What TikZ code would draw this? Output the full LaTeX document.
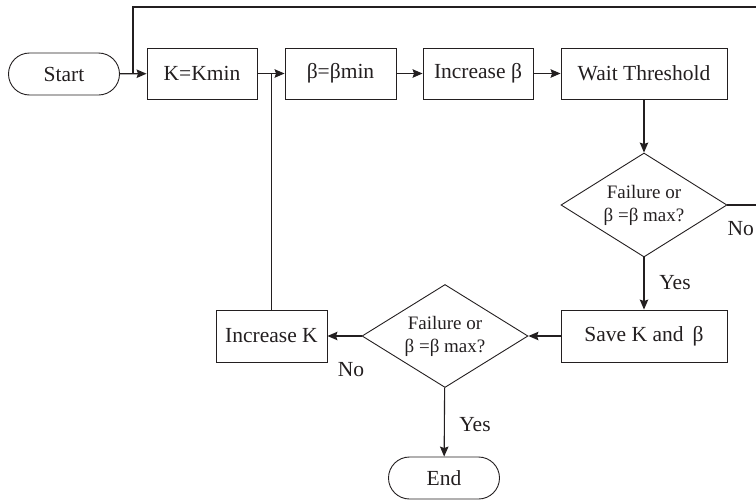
\documentclass[tikz,border=0pt]{standalone}
\usepackage{fontspec}
\setmainfont{Liberation Serif}
\usetikzlibrary{shapes.geometric,shapes.misc,arrows.meta}
\definecolor{ink}{HTML}{231F20}
\begin{document}
\begin{tikzpicture}[x=1pt,y=-1pt,
  every node/.style={text=ink},
  box/.style={draw=ink,line width=0.9pt,rectangle,minimum height=51pt,inner sep=0pt,font=\fontsize{21.5}{24}\selectfont},
  term/.style={draw=ink,line width=0.9pt,rounded rectangle,minimum width=111pt,minimum height=42pt,inner sep=0pt,font=\fontsize{21.5}{24}\selectfont},
  dec/.style={draw=ink,line width=0.9pt,diamond,aspect=1.6,inner sep=0pt,minimum width=166pt,minimum height=104pt,align=center,font=\fontsize{19}{23}\selectfont},
  lbl/.style={font=\fontsize{21.5}{24}\selectfont,inner sep=0pt},
  conn/.style={draw=ink,line width=1.1pt},
  arr/.style={conn,-{Stealth[length=10pt,width=8.5pt,inset=1.5pt]}}]
\useasboundingbox (0,0) rectangle (756,501);
\clip (0,0) rectangle (756,501);
\node[term] (start) at (64,74) {Start};
\node[box,minimum width=110pt] (k) at (202,73.5) {K=Kmin};
\node[box,minimum width=111pt] (bmin) at (340.5,73.5) {β=βmin};
\node[box,minimum width=110pt] (incb) at (478,73.5) {Increase β};
\node[box,minimum width=166pt] (wait) at (644,73.5) {Wait Threshold};
\node[dec] (d1) at (644,205) {Failure or\\β =β max?};
\node[box,minimum width=166pt,minimum height=52pt] (save) at (644,336) {Save K and \,β};
\node[dec,minimum height=103pt] (d2) at (445,336) {Failure or\\β =β max?};
\node[box,minimum width=111pt,minimum height=52pt] (inck) at (271.5,336) {Increase K};
\node[term] (end) at (444,478) {End};
\coordinate (jn) at (133,74);
\coordinate (r1) at (760,205);
\coordinate (r2) at (760,7);
\coordinate (t1) at (133,7);
\draw[arr] (start) -- (k);
\draw[arr] (k) -- (bmin);
\draw[arr] (bmin) -- (incb);
\draw[arr] (incb) -- (wait);
\draw[arr] (wait) -- (d1);
\draw[arr] (d1) -- (save);
\draw[arr] (save) -- (d2);
\draw[arr] (d2) -- (inck);
\draw[arr] (d2) -- (end);
\draw[conn] (inck.north) -- (inck.north |- k.east);
\draw[conn] (d1.east) -- (r1) -- (r2) -- (t1) -- (jn);
\node[lbl,anchor=east] (no1) at (754,229) {No};
\node[lbl] (yes1) at (675,283) {Yes};
\node[lbl] (no2) at (351,370) {No};
\node[lbl] (yes2) at (475,425) {Yes};
\end{tikzpicture}
\end{document}
